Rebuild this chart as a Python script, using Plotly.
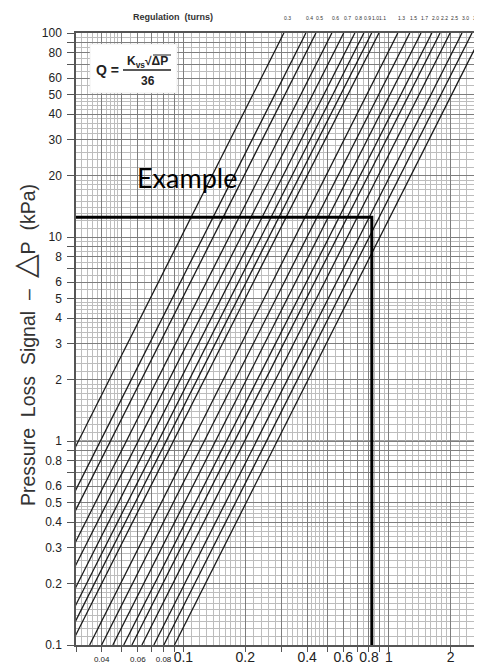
import numpy as np
import plotly.graph_objects as go

# ---------------- data ----------------
regulation_turns = ["0.3", "0.4", "0.5", "0.6", "0.7", "0.8", "0.9", "1.0", "1.1",
                    "1.3", "1.5", "1.7", "2.0", "2.2", "2.5", "3.0", "3.5", ""]
kv_values = [1.11, 1.42, 1.59, 1.90, 2.17, 2.46, 2.72, 2.97, 3.22,
             3.98, 4.55, 5.16, 5.83, 6.39, 7.15, 8.17, 9.14, 10.3]
dp_limits = [0.1, 100.0]          # kPa, vertical extent of the chart
flow_limits = [0.03, 2.84]        # horizontal extent of the chart
example_flow = 0.826
example_dp = 12.5

x_tick_vals = [0.03, 0.04, 0.05, 0.06, 0.07, 0.08, 0.09, 0.1, 0.2, 0.3, 0.4, 0.5,
               0.6, 0.7, 0.8, 0.9, 1, 2]
x_tick_text = [" ", "<span style='font-size:8px'>0.04</span>", " ",
               "<span style='font-size:8px'>0.06</span>", " ",
               "<span style='font-size:8px'>0.08</span>", " ", "0.1", "0.2", " ", "0.4", " ",
               "0.6", " ", "0.8", " ", "1", "2"]
y_tick_vals = [0.1, 0.2, 0.3, 0.4, 0.5, 0.6, 0.7, 0.8, 0.9,
               1, 2, 3, 4, 5, 6, 7, 8, 9,
               10, 20, 30, 40, 50, 60, 70, 80, 90, 100]
y_tick_text = ["0.1", "0.2", "0.3", "0.4", "0.5", "0.6", " ", "0.8", " ",
               "1", "2", "3", "4", "5", "6", " ", "8", " ",
               "10", "20", "30", "40", "50", "60", " ", "80", " ", "100"]

# ---------------- layout helpers ----------------
OFF = 8                      # page body margin
W, H = 482 - OFF, 664 - OFF
PL, PR, PT, PB = 76, 482, 33, 645      # plot area in page pixels
L, T = PL - OFF, PT - OFF
R = W - (PR - OFF)
B = H - (PB - OFF)
PW, PH = PR - PL, PB - PT


def px(x):
    return (x - PL) / PW


def py(y):
    return (PB - y) / PH


def fine_grid(lo_exp, hi_exp):
    vals = []
    for e in range(lo_exp, hi_exp + 1):
        d = 10.0 ** e
        for m in np.arange(1.1, 2.0, 0.1):
            vals.append(round(m * d, 6))
        for m in np.arange(2.2, 5.0, 0.2):
            if abs(m - round(m)) > 1e-6:
                vals.append(round(m * d, 6))
        for m in [5.5, 6.5, 7.5, 8.5, 9.5]:
            vals.append(round(m * d, 6))
    return vals


fig = go.Figure()

# Kv lines: Q = Kv * sqrt(dP) / 36
for kv in kv_values:
    q = [kv * np.sqrt(dp) / 36.0 for dp in dp_limits]
    fig.add_trace(go.Scatter(x=q, y=dp_limits, mode="lines",
                             line=dict(color="#1a1a1a", width=1.3),
                             hoverinfo="skip", showlegend=False))

# example path
fig.add_trace(go.Scatter(x=[flow_limits[0], example_flow, example_flow],
                         y=[example_dp, example_dp, dp_limits[0]],
                         mode="lines", line=dict(color="black", width=3),
                         hoverinfo="skip", showlegend=False))

shapes = []
# decade lines (darker)
for e in range(-2, 1):
    v = 10.0 ** e
    if flow_limits[0] < v < flow_limits[1]:
        shapes.append(dict(type="line", xref="x", yref="paper", x0=np.log10(v), x1=np.log10(v),
                           y0=0, y1=1, line=dict(color="#4a4a4a", width=1.2), layer="below"))
for e in range(0, 2):
    v = 10.0 ** e
    shapes.append(dict(type="line", xref="paper", yref="y", x0=0, x1=1, y0=np.log10(v), y1=np.log10(v),
                       line=dict(color="#4a4a4a", width=1.2), layer="below"))

# formula box
shapes.append(dict(type="rect", xref="paper", yref="paper", x0=px(90), x1=px(177), y0=py(93), y1=py(44),
                   fillcolor="white", line=dict(color="#dddddd", width=0.5), layer="above"))
shapes.append(dict(type="line", xref="paper", yref="paper", x0=px(123), x1=px(171), y0=py(70), y1=py(70),
                   line=dict(color="#222", width=1.3), layer="above"))
shapes.append(dict(type="line", xref="paper", yref="paper", x0=px(153), x1=px(171), y0=py(55), y1=py(55),
                   line=dict(color="#222", width=1), layer="above"))


def ann(x, y, text, size, color="#222", family="Liberation Sans", **kw):
    d = dict(x=px(x), y=py(y), xref="paper", yref="paper", text=text, showarrow=False,
             xanchor="center", yanchor="middle",
             font=dict(size=size, color=color, family=family))
    d.update(kw)
    return d


annotations = []
# top regulation labels
for kv, lab in zip(kv_values, regulation_turns):
    if not lab:
        continue
    q_top = kv * np.sqrt(dp_limits[1]) / 36.0
    annotations.append(dict(x=np.log10(q_top), xref="x", y=1, yref="paper", yshift=15,
                            text=lab, showarrow=False, xshift=4, xanchor="center", yanchor="middle",
                            font=dict(size=5, color="#333", family="Liberation Sans")))
annotations.append(ann(173, 17, "<b>Regulation  (turns)</b>", 9, "#333",
                       "Liberation Sans Narrow, Liberation Sans"))
# formula
annotations.append(ann(107, 70, "<b>Q =</b>", 14))
annotations.append(ann(147, 62, "<b>K<sub>vs</sub>√ΔP</b>", 12))
annotations.append(ann(148, 81, "<b>36</b>", 12))
# Example text
annotations.append(ann(187, 177, "Example", 27, "black", "Lato"))
# y title
nb = "\u00a0\u00a0"
annotations.append(ann(24, 345,
                       f"Pressure{nb}Loss{nb}Signal{nb}–{nb}<span style='font-size:31px'>△</span>P{nb}(kPa)",
                       19.5, "#333", textangle=-90))

fig.update_layout(
    width=W, height=H,
    margin=dict(l=L, r=R, t=T, b=B, autoexpand=False),
    paper_bgcolor="white", plot_bgcolor="white",
    shapes=shapes, annotations=annotations,
    xaxis=dict(type="log", range=[np.log10(flow_limits[0]), np.log10(flow_limits[1])],
               tickvals=x_tick_vals, ticktext=x_tick_text, automargin=False,
               ticks="outside", ticklen=5, tickcolor="#555", tickwidth=1,
               ticklabelstandoff=-7,
               showgrid=True, gridcolor="#7e7e7e", gridwidth=0.8,
               minor=dict(tickvals=fine_grid(-2, 0), showgrid=True, gridcolor="#bdbdbd", gridwidth=0.7, ticks=""),
               showline=True, linecolor="#555", linewidth=1.5, mirror=True,
               zeroline=False, tickangle=0,
               tickfont=dict(size=14, color="#222", family="Liberation Sans")),
    yaxis=dict(type="log", range=[np.log10(dp_limits[0]), np.log10(dp_limits[1])],
               tickvals=y_tick_vals, ticktext=y_tick_text, automargin=False,
               ticks="outside", ticklen=7, tickcolor="#555", tickwidth=1,
               ticklabelstandoff=3,
               showgrid=True, gridcolor="#7e7e7e", gridwidth=0.8,
               minor=dict(tickvals=fine_grid(-1, 1), showgrid=True, gridcolor="#bdbdbd", gridwidth=0.7, ticks=""),
               showline=True, linecolor="#555", linewidth=1.5,
               zeroline=False,
               tickfont=dict(size=12, color="#222", family="Liberation Sans")),
)

fig.write_html("out.html")
